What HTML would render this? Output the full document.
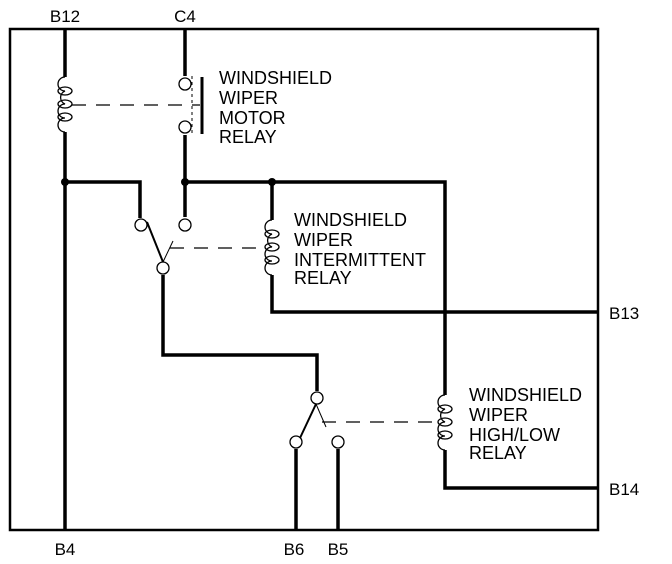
<!DOCTYPE html>
<html><head><style>
html,body{margin:0;padding:0;background:#fff;}
svg{display:block;}
text{font-family:"Liberation Sans",Arial,sans-serif;font-size:18px;fill:#000;}
text.p{font-size:17px;}
</style></head><body>
<svg width="672" height="564" viewBox="0 0 672 564" xmlns="http://www.w3.org/2000/svg">
<g fill="none" stroke="#000">
<rect x="10" y="29" width="588" height="501" stroke-width="2.5"/>
<g stroke-width="3.5">
<line x1="65" y1="29" x2="65" y2="77"/>
<line x1="65" y1="132" x2="65" y2="530"/>
<line x1="185" y1="29" x2="185" y2="76"/>
<line x1="185" y1="135" x2="185" y2="217"/>
<polyline points="65,182 140,182 140,218"/>
<polyline points="185,182 445,182 445,395"/>
<polyline points="445,450 445,488 598,488"/>
<line x1="272" y1="182" x2="272" y2="220"/>
<polyline points="272,275 272,312 598,312"/>
<polyline points="163,275 163,355 317,355 317,391"/>
<line x1="296" y1="449" x2="296" y2="530"/>
<line x1="338" y1="449" x2="338" y2="530"/>
<line x1="202" y1="77" x2="202" y2="134" stroke-width="3"/>
</g>
<g fill="#000" stroke="none">
<circle cx="65" cy="182" r="4"/><circle cx="185" cy="182" r="4"/><circle cx="272" cy="182" r="4"/>
</g>
<g stroke-width="1.3">
<circle cx="185" cy="84" r="6"/><circle cx="185" cy="127" r="6"/>
<circle cx="141" cy="225" r="6"/><circle cx="185" cy="225" r="6"/>
<circle cx="163" cy="268" r="6"/>
<circle cx="317" cy="398" r="6"/>
<circle cx="296" cy="442" r="6"/><circle cx="338" cy="442" r="6"/>
</g>
<line x1="147" y1="222" x2="163" y2="262" stroke-width="2"/>
<line x1="316" y1="404" x2="300" y2="438" stroke-width="2"/>
<line x1="163" y1="262" x2="173" y2="241" stroke-width="1"/>
<line x1="316" y1="404" x2="326" y2="427" stroke-width="1"/>
<g stroke-width="1.2" stroke-dasharray="14,10">
<line x1="72" y1="105" x2="200" y2="105"/>
<line x1="170" y1="248" x2="266" y2="248"/>
<line x1="322" y1="422" x2="440" y2="422"/>
</g>
<line x1="192" y1="76" x2="192" y2="135" stroke-width="1" stroke-dasharray="3,3"/>
<g stroke-width="1.3">
<path d="M65,77 a7,7 0 0 0 0,14 a7,7 0 0 0 0,13 a7,7 0 0 0 0,14 a7,7 0 0 0 0,14"/>
<ellipse cx="65" cy="91" rx="7" ry="4"/><ellipse cx="65" cy="104" rx="7" ry="4"/><ellipse cx="65" cy="117" rx="7" ry="4"/>
<path d="M272,220 a7,7 0 0 0 0,14 a7,7 0 0 0 0,13 a7,7 0 0 0 0,14 a7,7 0 0 0 0,14"/>
<ellipse cx="272" cy="234" rx="7" ry="4"/><ellipse cx="272" cy="247" rx="7" ry="4"/><ellipse cx="272" cy="260" rx="7" ry="4"/>
<path d="M445,395 a7,7 0 0 0 0,14 a7,7 0 0 0 0,13 a7,7 0 0 0 0,14 a7,7 0 0 0 0,14"/>
<ellipse cx="445" cy="409" rx="7" ry="4"/><ellipse cx="445" cy="422" rx="7" ry="4"/><ellipse cx="445" cy="435" rx="7" ry="4"/>
</g>
</g>
<text class="p" x="65" y="22" text-anchor="middle">B12</text>
<text class="p" x="185" y="22" text-anchor="middle">C4</text>
<text class="p" x="65" y="555" text-anchor="middle">B4</text>
<text class="p" x="294" y="555" text-anchor="middle">B6</text>
<text class="p" x="338" y="555" text-anchor="middle">B5</text>
<text class="p" x="609" y="319">B13</text>
<text class="p" x="609" y="495">B14</text>
<text x="219" y="84">WINDSHIELD</text>
<text x="219" y="104">WIPER</text>
<text x="219" y="124">MOTOR</text>
<text x="219" y="143">RELAY</text>
<text x="294" y="226">WINDSHIELD</text>
<text x="294" y="246">WIPER</text>
<text x="294" y="266">INTERMITTENT</text>
<text x="294" y="284">RELAY</text>
<text x="469" y="401">WINDSHIELD</text>
<text x="469" y="421">WIPER</text>
<text x="469" y="441">HIGH/LOW</text>
<text x="469" y="459">RELAY</text>
</svg>
</body></html>
